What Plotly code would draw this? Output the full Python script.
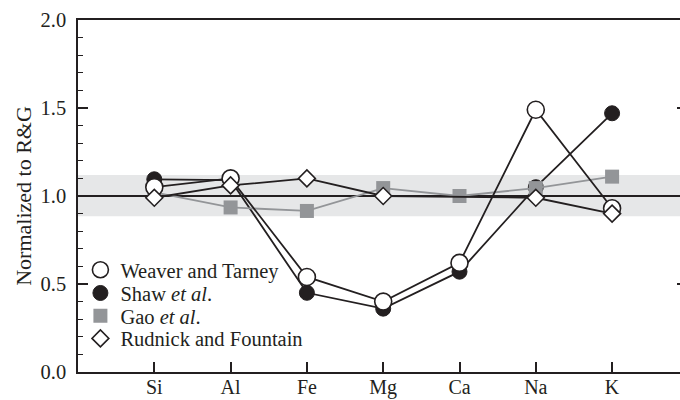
import plotly.graph_objects as go

elements = ["Si", "Al", "Fe", "Mg", "Ca", "Na", "K"]
xpos = [1, 2, 3, 4, 5, 6, 7]

weaver = [1.05, 1.10, 0.54, 0.40, 0.62, 1.49, 0.93]
shaw = [1.095, 1.09, 0.45, 0.36, 0.57, 1.05, 1.47]
gao = [1.02, 0.935, 0.915, 1.045, 1.0, 1.045, 1.11]
rudnick = [0.99, 1.06, 1.10, 1.00, None, 0.99, 0.90]

band_low, band_high = 0.885, 1.12

FONT = "Liberation Serif"
FS = 20.5
BLACK = "#231f20"
GREY = "#939598"

fig = go.Figure()

# data traces (drawing order: Shaw, Gao, Weaver, Rudnick)
fig.add_trace(go.Scatter(x=xpos, y=shaw, mode="lines+markers", showlegend=False,
                         line=dict(color=BLACK, width=1.8),
                         marker=dict(symbol="circle", size=15, color=BLACK,
                                     line=dict(color=BLACK, width=1))))
fig.add_trace(go.Scatter(x=xpos, y=gao, mode="lines+markers", showlegend=False,
                         line=dict(color=GREY, width=1.8),
                         marker=dict(symbol="square", size=14, color=GREY,
                                     line=dict(width=0))))
fig.add_trace(go.Scatter(x=xpos, y=weaver, mode="lines+markers", showlegend=False,
                         line=dict(color=BLACK, width=1.8),
                         marker=dict(symbol="circle", size=17, color="white",
                                     line=dict(color=BLACK, width=1.6))))
fig.add_trace(go.Scatter(x=xpos, y=rudnick, mode="lines+markers", showlegend=False,
                         connectgaps=True,
                         line=dict(color=BLACK, width=1.8),
                         marker=dict(symbol="diamond", size=13, color="white",
                                     line=dict(color=BLACK, width=1.6))))

# legend-only traces, each in its own legend to control row spacing
legend_items = [
    ("Weaver and Tarney", dict(symbol="circle", size=17, color="white", line=dict(color=BLACK, width=1.6))),
    ("Shaw <i>et al</i>.", dict(symbol="circle", size=15, color=BLACK, line=dict(color=BLACK, width=1))),
    ("Gao <i>et al</i>.", dict(symbol="square", size=14, color=GREY, line=dict(width=0))),
    ("Rudnick and Fountain", dict(symbol="diamond", size=13, color="white", line=dict(color=BLACK, width=1.6))),
]
legend_keys = ["legend", "legend2", "legend3", "legend4"]
legend_rows = [0.290, 0.224, 0.159, 0.095]
for (name, mk), key in zip(legend_items, legend_keys):
    fig.add_trace(go.Scatter(x=[None], y=[None], mode="markers", name=name,
                             marker=mk, legend=key))

# dummy trace for right-side ticks
fig.add_trace(go.Scatter(x=[None], y=[None], yaxis="y2", showlegend=False, hoverinfo="skip"))

legend_layout = {}
for key, ry in zip(legend_keys, legend_rows):
    legend_layout[key] = dict(x=0.004, y=ry, xanchor="left", yanchor="middle",
                              bgcolor="rgba(0,0,0,0)", borderwidth=0,
                              font=dict(family=FONT, size=FS, color=BLACK),
                              itemsizing="trace")

fig.update_layout(
    width=680, height=400,
    margin=dict(l=78, r=0, t=20, b=28),
    plot_bgcolor="white", paper_bgcolor="white",
    font=dict(family=FONT, size=FS, color=BLACK),
    showlegend=True,
    xaxis=dict(range=[0, 7.89], tickvals=xpos, ticktext=elements,
               showline=True, linecolor=BLACK, linewidth=1.5, mirror=True,
               ticks="inside", ticklen=10, tickwidth=1.5, tickcolor=BLACK,
               showgrid=False, zeroline=False, automargin=False,
               ticklabelstandoff=-4,
               tickfont=dict(family=FONT, size=20, color=BLACK)),
    yaxis=dict(range=[0, 2.0], tickvals=[0, 0.5, 1.0, 1.5, 2.0], tickformat=".1f",
               showline=True, linecolor=BLACK, linewidth=1.5,
               ticks="inside", ticklen=10, tickwidth=1.5, tickcolor=BLACK,
               minor=dict(dtick=0.1, ticks="inside", ticklen=5, tickwidth=1.2, tickcolor=BLACK, showgrid=False),
               showgrid=False, zeroline=False, ticklabelstandoff=6, automargin=False,
               tickfont=dict(family=FONT, size=FS, color=BLACK),
               title=dict(text="Normalized to R&amp;G", standoff=3,
                          font=dict(family=FONT, size=22, color=BLACK))),
    yaxis2=dict(range=[0, 2.0], overlaying="y", side="right",
                tickvals=[0.5, 1.0, 1.5], ticks="inside", ticklen=3, tickwidth=1.5,
                tickcolor=BLACK, showticklabels=False, showline=False,
                showgrid=False, zeroline=False, automargin=False),
    shapes=[
        dict(type="rect", xref="paper", x0=0, x1=1, yref="y", y0=band_low, y1=band_high,
             fillcolor="#e6e7e8", line=dict(width=0), layer="below"),
        dict(type="line", xref="paper", x0=0, x1=1, yref="y", y0=1.0, y1=1.0,
             line=dict(color=BLACK, width=1.8), layer="below"),
    ],
    **legend_layout,
)

fig.write_html("out.html")
